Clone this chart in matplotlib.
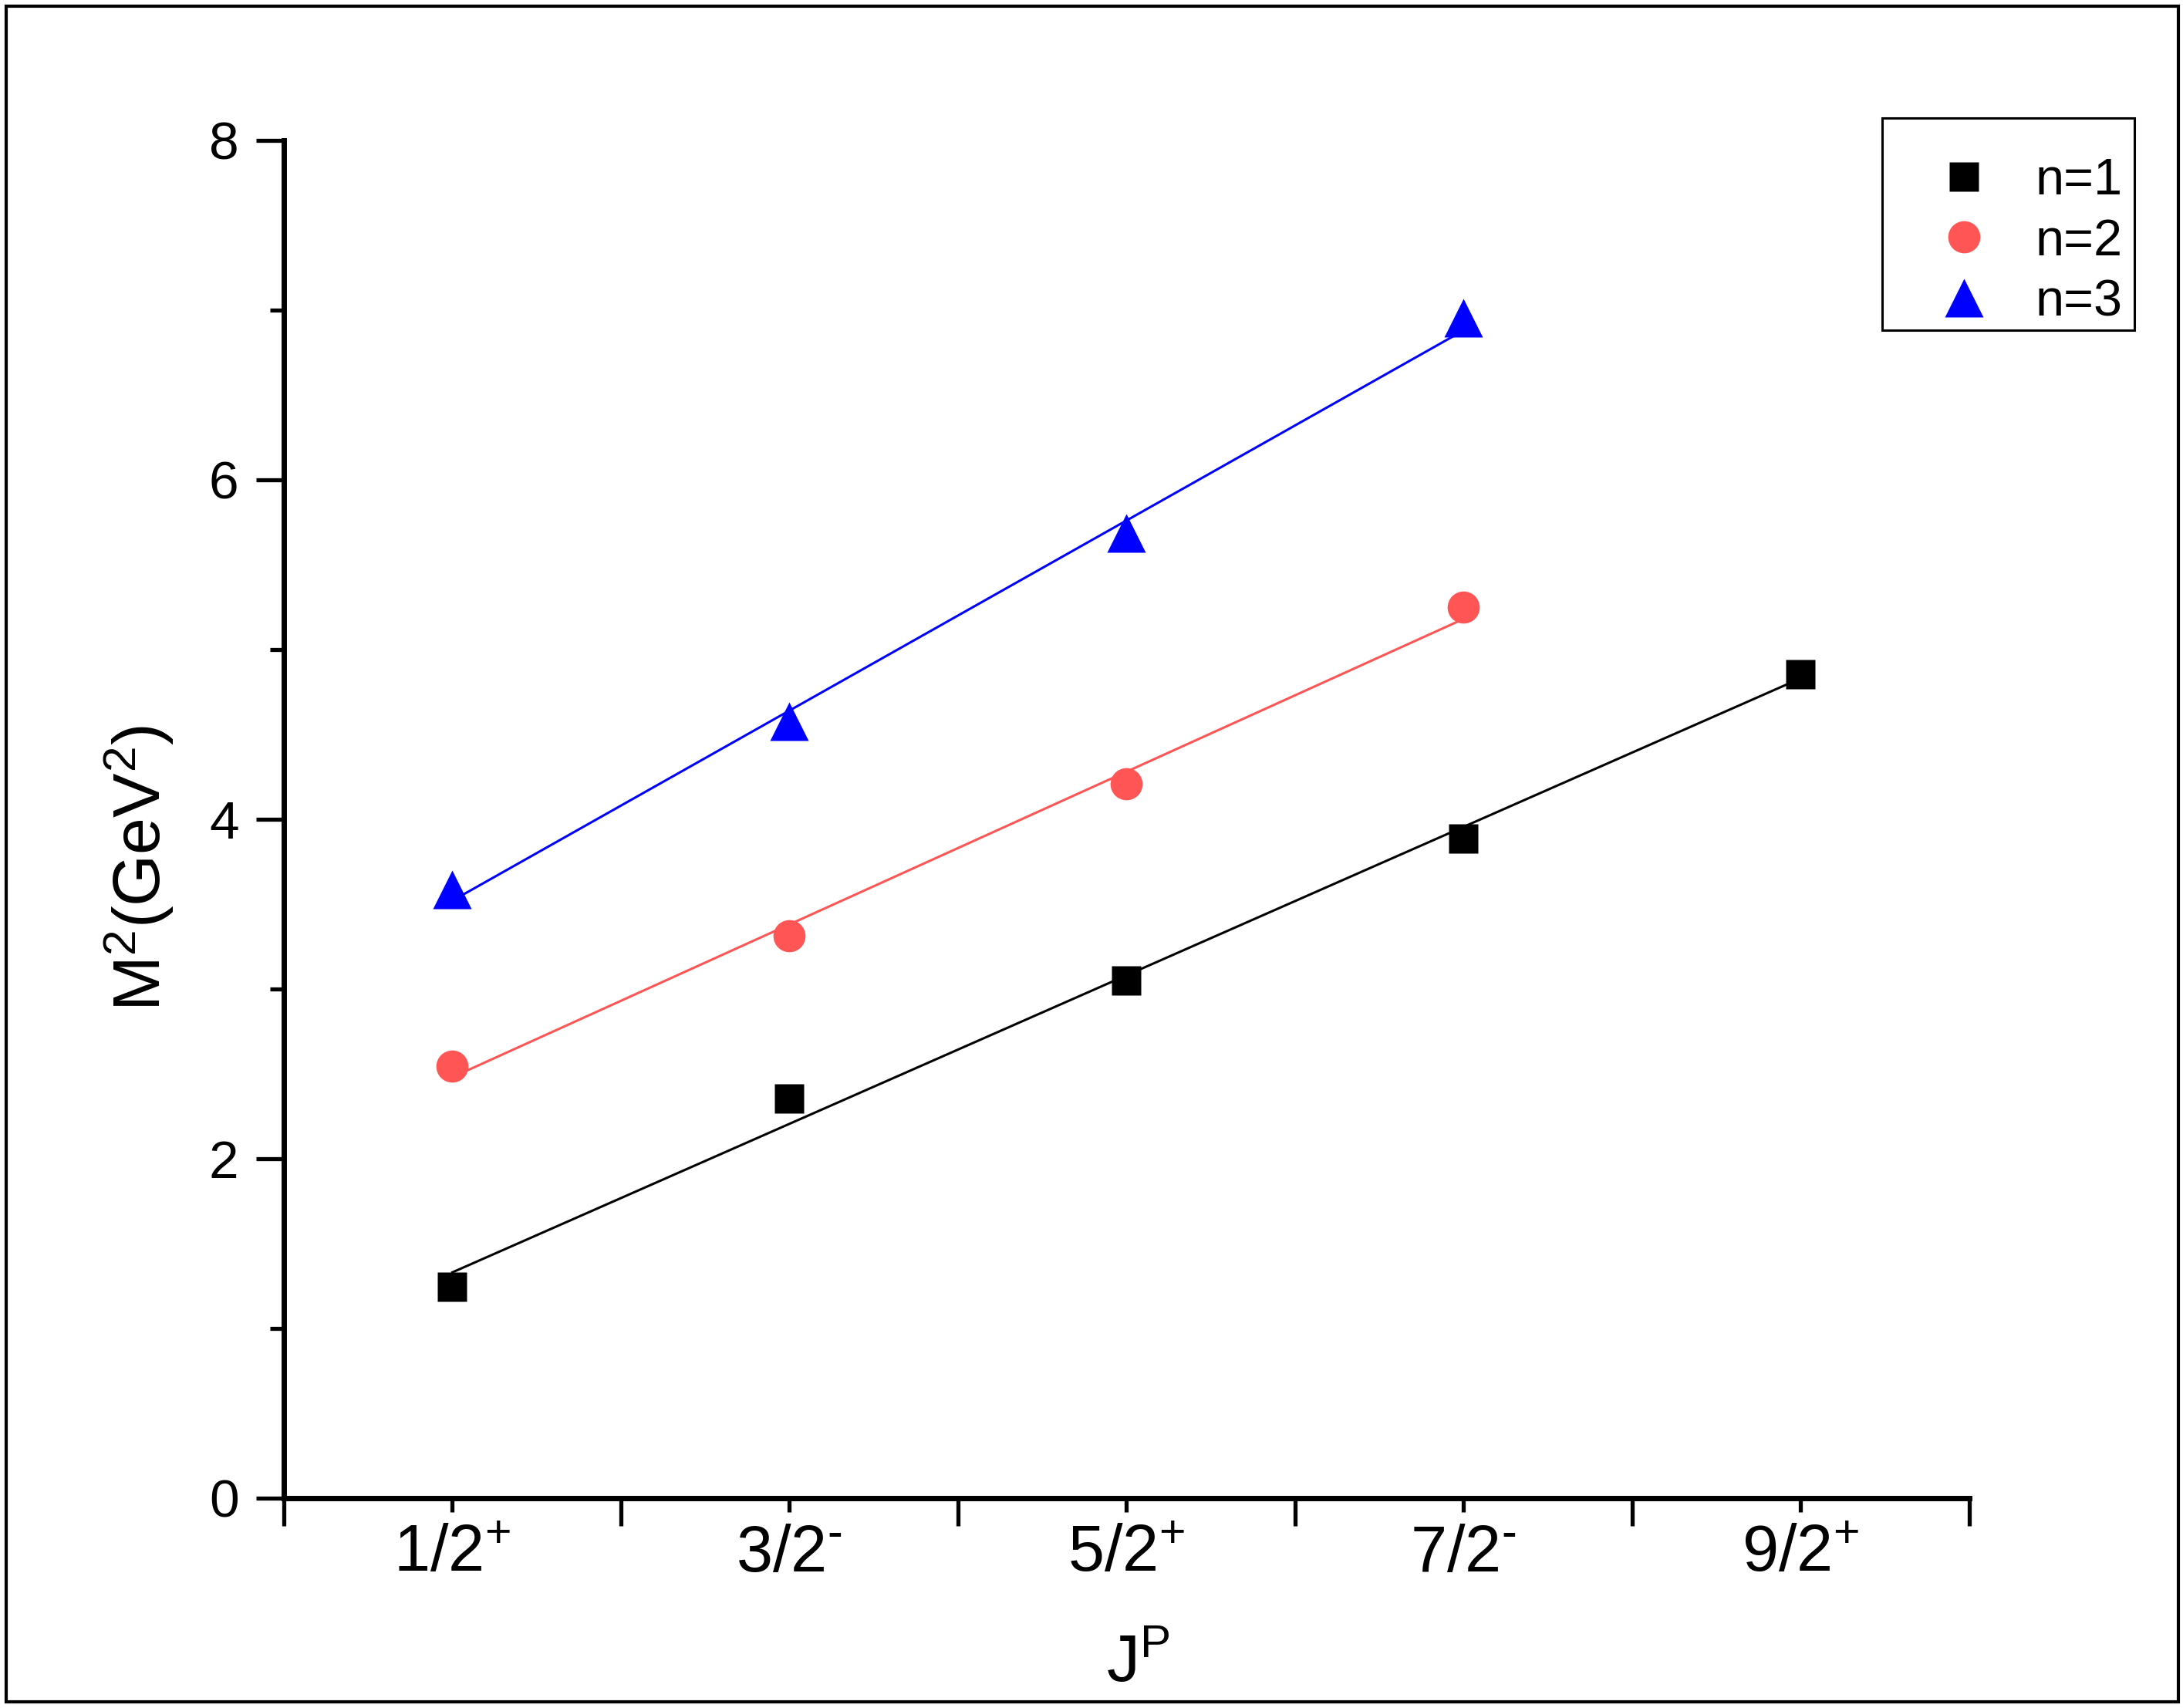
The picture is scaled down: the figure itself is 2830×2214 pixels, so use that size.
import matplotlib
matplotlib.use("Agg")
import matplotlib.pyplot as plt
from matplotlib.patches import Rectangle

plt.rcParams['font.family'] = ['Liberation Sans', 'DejaVu Sans']
plt.rcParams['mathtext.default'] = 'regular'

# data
jp_labels = ["1/2$^{+}$", "3/2$^{\u2010}$", "5/2$^{+}$", "7/2$^{\u2010}$", "9/2$^{+}$"]
x1 = [1, 2, 3, 4, 5]
m2_n1 = [1.245, 2.352, 3.05, 3.886, 4.855]
x2 = [1, 2, 3, 4]
m2_n2 = [2.543, 3.313, 4.207, 5.25]
x3 = [1, 2, 3, 4]
m2_n3 = [3.588, 4.576, 5.684, 6.956]

# fitted lines (end points)
fit_x1 = [1, 5]
fit_n1 = [1.33, 4.83]
fit_x2 = [1, 4]
fit_n2 = [2.48, 5.18]
fit_x3 = [1, 4]
fit_n3 = [3.52, 6.88]

red = "#FF5555"
blue = "#0000FF"

fig = plt.figure(figsize=(28.30, 22.14), dpi=100)
ax = fig.add_axes([0.130, 0.1229, 0.772, 0.7949])

ax.plot(fit_x1, fit_n1, color="black", lw=2.2, zorder=2)
ax.plot(fit_x2, fit_n2, color=red, lw=2.2, zorder=2)
ax.plot(fit_x3, fit_n3, color=blue, lw=2.2, zorder=2)

ax.plot(x1, m2_n1, ls="none", marker="s", ms=27.4, color="black",
        mec="none", label="n=1", zorder=3)
ax.plot(x2, m2_n2, ls="none", marker="o", ms=30, color=red,
        mec="none", label="n=2", zorder=3)
ax.plot(x3, m2_n3, ls="none", marker="^", ms=36, color=blue,
        mec="none", label="n=3", zorder=3)

ax.set_xlim(0.5, 5.5)
ax.set_ylim(0, 8)

# long unlabeled ticks between the states, short labeled ticks on them
ax.set_xticks([0.5, 1.5, 2.5, 3.5, 4.5, 5.5])
ax.set_xticklabels([])
ax.set_xticks(x1, minor=True)
ax.set_xticklabels(jp_labels, minor=True, fontsize=61)
ax.set_yticks([0, 2, 4, 6, 8])
ax.set_yticks([1, 3, 5, 7], minor=True)

for s in ["top", "right"]:
    ax.spines[s].set_visible(False)
for s in ["left", "bottom"]:
    ax.spines[s].set_linewidth(5)
    ax.spines[s].set_capstyle("projecting")

ax.tick_params(which="both", direction="out", width=3.8, color="black")
ax.tick_params(axis="x", which="major", length=26, labelbottom=False)
ax.tick_params(axis="x", which="minor", length=13, pad=11, labelsize=61)
ax.tick_params(axis="y", which="major", length=26, pad=16, labelsize=50)
ax.tick_params(axis="y", which="minor", length=13)

ax.set_xlabel("J$^{P}$", fontsize=62)
ax.xaxis.set_label_coords(0.507, -0.1)
ax.xaxis.label.set_verticalalignment("top")
ax.set_ylabel("M$^{2}$(GeV$^{2}$)", fontsize=62)
ax.yaxis.set_label_coords(-0.064, 0.464)

leg = ax.legend(loc="upper left", bbox_to_anchor=(2513 / 2830, 1 - 204 / 2214),
                bbox_transform=fig.transFigure, frameon=False, fontsize=48,
                borderpad=0, borderaxespad=0, handlelength=1.0,
                handletextpad=0.89, labelspacing=0.25, numpoints=1)

# legend box and outer frame
fig.patches.append(Rectangle((2440 / 2830, 1 - 428 / 2214), 327 / 2830, 275 / 2214,
                             transform=fig.transFigure, fill=False,
                             edgecolor="black", lw=2.2))
fig.patches.append(Rectangle((8 / 2830, 8 / 2214), 2816 / 2830, 2198 / 2214,
                             transform=fig.transFigure, fill=False,
                             edgecolor="black", lw=3))

fig.savefig("out.png", dpi=100, facecolor="white")
